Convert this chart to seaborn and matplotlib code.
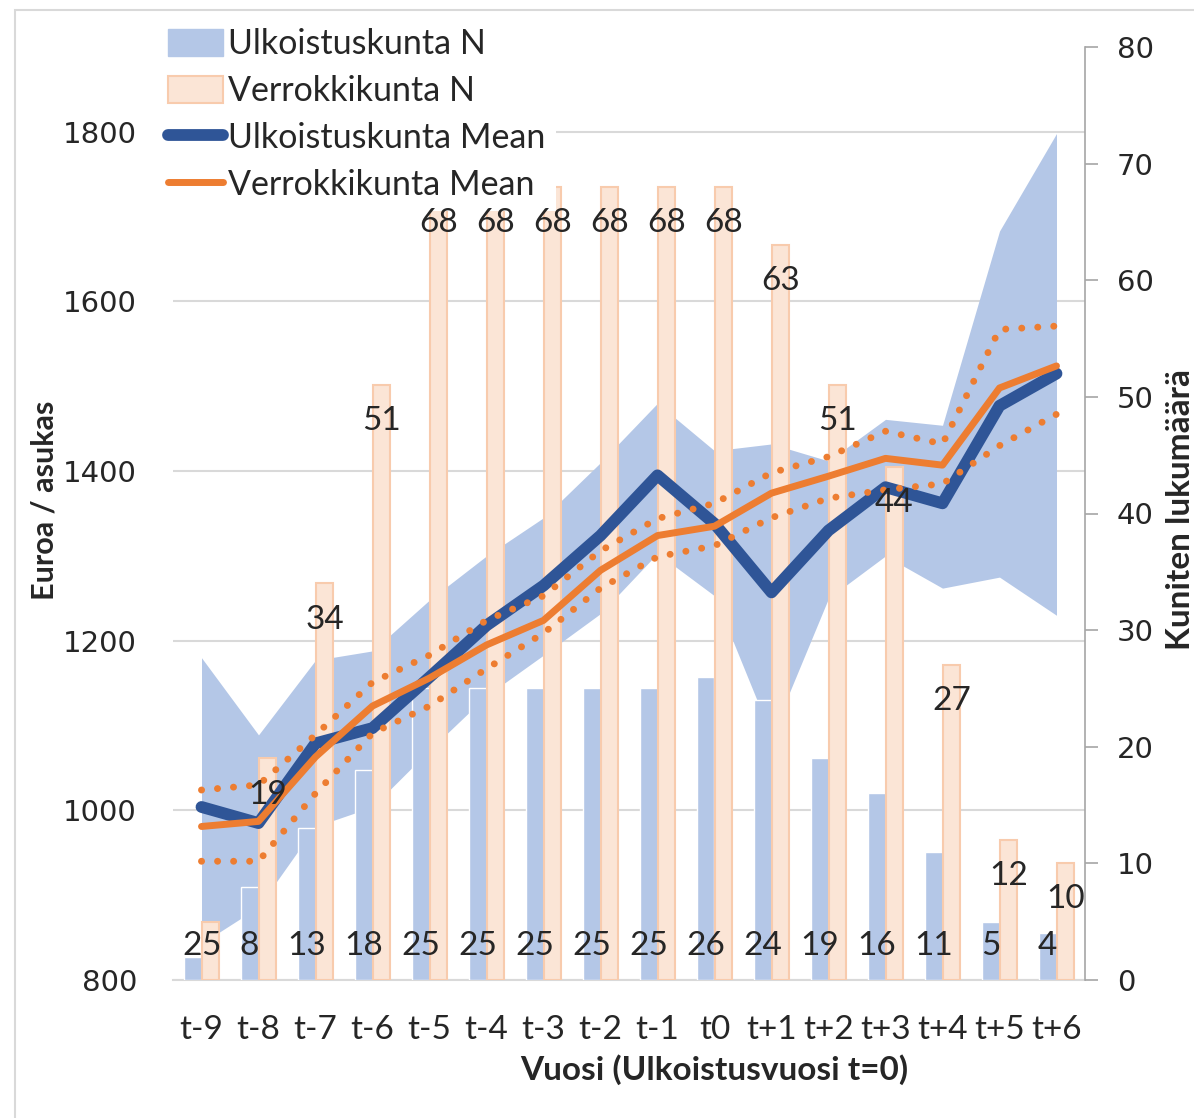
import numpy as np
import pandas as pd
import matplotlib
matplotlib.use('Agg')
import matplotlib.pyplot as plt
import seaborn as sns
from matplotlib.patches import Patch, Rectangle
from matplotlib.lines import Line2D

vuodet = ['t-9', 't-8', 't-7', 't-6', 't-5', 't-4', 't-3', 't-2', 't-1', 't0',
          't+1', 't+2', 't+3', 't+4', 't+5', 't+6']
ulk_n = [2, 8, 13, 18, 25, 25, 25, 25, 25, 26, 24, 19, 16, 11, 5, 4]
ver_n = [5, 19, 34, 51, 68, 68, 68, 68, 68, 68, 63, 51, 44, 27, 12, 10]

ulk_mean = [1004, 985, 1079, 1097, 1157, 1218, 1265, 1324, 1395, 1338, 1257, 1330, 1381, 1362, 1477, 1515]
ulk_low = [843, 886, 981, 1004, 1071, 1135, 1183, 1232, 1303, 1253, 1088, 1250, 1300, 1262, 1275, 1230]
ulk_high = [1180, 1089, 1177, 1188, 1248, 1300, 1345, 1410, 1480, 1424, 1432, 1412, 1461, 1454, 1683, 1798]

ver_mean = [981, 987, 1063, 1123, 1156, 1195, 1224, 1283, 1324, 1335, 1374, 1394, 1415, 1407, 1498, 1524]
ver_high = [1024, 1030, 1089, 1151, 1183, 1224, 1253, 1306, 1344, 1362, 1398, 1417, 1447, 1432, 1567, 1571]
ver_low = [940, 940, 1020, 1091, 1123, 1167, 1209, 1262, 1299, 1312, 1345, 1368, 1378, 1385, 1430, 1467]

BAND = '#B4C7E7'
ORANGE_FILL = '#FBE5D6'
ORANGE_EDGE = '#F8CBAD'
BLUE_LINE = '#2F5597'
ORANGE = '#ED7D31'

sns.set_style('white')
plt.rcParams['font.family'] = ['Lato', 'DejaVu Sans']

W, H = 1194, 1118
fig = plt.figure(figsize=(W / 100, H / 100), dpi=100)
ax = fig.add_axes([173 / W, 1 - 980 / H, (1085 - 173) / W, (980 - 47) / H])
axb = ax.twinx()
axl = ax.twinx()

pos = np.arange(len(vuodet))

# luottamusväli (ulkoistuskunnat)
ax.fill_between(pos, ulk_low, ulk_high, color=BAND, lw=0, zorder=1)
ax.set_ylim(800, 1900)
ax.set_yticks(range(800, 1801, 200))
ax.grid(axis='y', color='#D9D9D9', lw=1.5)
ax.grid(axis='x', visible=False)
ax.set_axisbelow(True)

# kuntien lukumäärät
df_n = pd.DataFrame({
    'pos': list(pos) * 2,
    'N': ulk_n + ver_n,
    'ryhma': ['Ulkoistuskunta N'] * len(pos) + ['Verrokkikunta N'] * len(pos),
})
sns.barplot(data=df_n, x='pos', y='N', hue='ryhma', palette=[BAND, ORANGE_FILL],
            saturation=1, width=0.63, ax=axb, legend=False)
for p in axb.containers[1]:
    p.set_edgecolor(ORANGE_EDGE)
    p.set_linewidth(1.5)
axb.set_ylim(0, 80)
axb.set_yticks(range(0, 81, 10))
axb.set_ylabel('')
axb.set_xlabel('')

# keskiarvot
axl.set_ylim(ax.get_ylim())
sns.lineplot(x=pos, y=ulk_mean, ax=axl, color=BLUE_LINE, lw=8.5,
             solid_capstyle='round', solid_joinstyle='round')
for s in (ver_high, ver_low):
    sns.lineplot(x=pos, y=s, ax=axl, color=ORANGE, lw=5,
                 linestyle=(0, (0.01, 2.3)), dash_capstyle='round')
sns.lineplot(x=pos, y=ver_mean, ax=axl, color=ORANGE, lw=5,
             solid_capstyle='round', solid_joinstyle='round')
axl.set_ylim(ax.get_ylim())
axl.set_xlim(-0.5, len(pos) - 0.5)
axl.axis('off')

# arvot pylväisiin
for bar, v in zip(axb.containers[0], ulk_n):
    cx = bar.get_x() + bar.get_width() / 2
    axl.annotate(str(v), (cx, 0), xycoords=axb.transData, xytext=(0, 24.5),
                 textcoords='offset points', ha='center', va='center', fontsize=24,
                 zorder=7)
for bar, v in zip(axb.containers[1], ver_n):
    cx = bar.get_x() + bar.get_width() / 2
    if v < 6:
        xy, off = (cx, 0), 24.5
    else:
        xy, off = (cx, v), -26
    axl.annotate(str(v), xy, xycoords=axb.transData, xytext=(0, off),
                 textcoords='offset points', ha='center', va='center', fontsize=24,
                 zorder=7)

ax.set_xlim(-0.5, len(pos) - 0.5)
ax.set_xticks(pos)
ax.set_xticklabels(vuodet, fontsize=24)
ax.tick_params(axis='x', length=0, pad=25)
ax.tick_params(axis='y', length=0, pad=26)
for t in ax.get_yticklabels():
    t.set_fontfamily('DejaVu Sans')
    t.set_fontsize(21)
axb.tick_params(axis='y', length=9, width=1.2, color='#A6A6A6', pad=14)
for t in axb.get_yticklabels():
    t.set_fontfamily('DejaVu Sans')
    t.set_fontsize(21)

for name in ('top', 'right', 'left'):
    ax.spines[name].set_visible(False)
ax.spines['bottom'].set_color('#D9D9D9')
ax.spines['bottom'].set_linewidth(1.5)
for name in ('top', 'left', 'bottom'):
    axb.spines[name].set_visible(False)
axb.spines['right'].set_color('#A6A6A6')
axb.spines['right'].set_linewidth(1.2)

handles = [
    Patch(facecolor=BAND, edgecolor=BAND),
    Patch(facecolor=ORANGE_FILL, edgecolor=ORANGE_EDGE, lw=1.5),
    Line2D([], [], color=BLUE_LINE, lw=8.5, solid_capstyle='round'),
    Line2D([], [], color=ORANGE, lw=5, solid_capstyle='round'),
]
labels = ['Ulkoistuskunta N', 'Verrokkikunta N', 'Ulkoistuskunta Mean', 'Verrokkikunta Mean']
leg = axl.legend(handles, labels, loc='upper left', bbox_to_anchor=(158 / W, 1 - 18 / H),
                 bbox_transform=fig.transFigure, frameon=True, facecolor='white',
                 edgecolor='none', framealpha=1, fancybox=False, fontsize=24.5,
                 handlelength=1.62, handleheight=0.85, handletextpad=0.15,
                 labelspacing=0.44, borderpad=0.3, borderaxespad=0)
leg.set_zorder(6)

fig.text(45 / W, 1 - 500 / H, 'Euroa / asukas', rotation=90, ha='center', va='center',
         fontsize=22, fontweight='bold')
fig.text(1180 / W, 1 - 510 / H, 'Kuniten lukumäärä', rotation=90, ha='center', va='center',
         fontsize=24, fontweight='bold')
fig.text(714 / W, 1 - 1070 / H, 'Vuosi (Ulkoistusvuosi t=0)', ha='center', va='center',
         fontsize=24, fontweight='bold')

fig.add_artist(Rectangle((15 / W, -0.5), 2, 1.5 - 10 / H, transform=fig.transFigure,
                         fill=False, ec='#D9D9D9', lw=1.5))

fig.savefig('out.png', dpi=100)
